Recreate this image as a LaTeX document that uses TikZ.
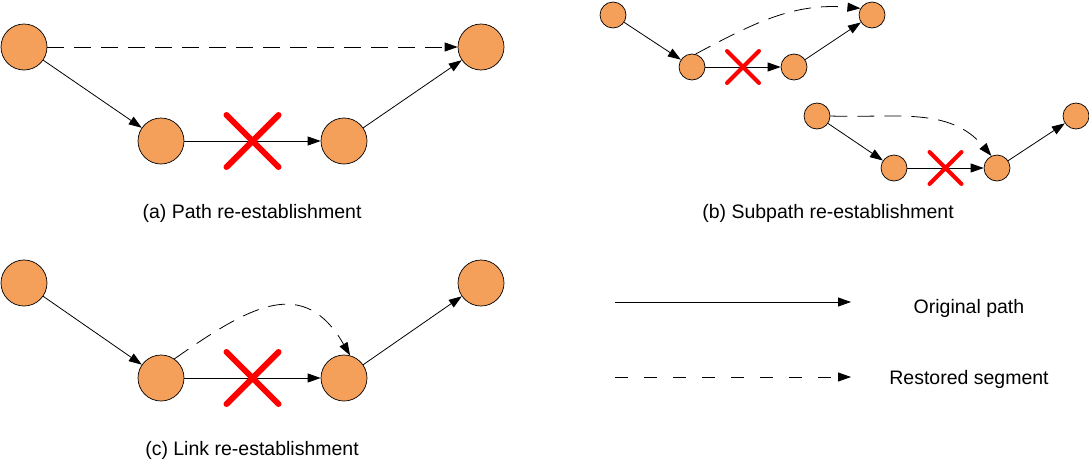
\documentclass[tikz,border=0pt]{standalone}
\usepackage{fontspec}
\setmainfont{Liberation Sans}
\usetikzlibrary{arrows.meta,shapes.misc}
\definecolor{nodeorange}{RGB}{245,160,90}
\begin{document}
\begin{tikzpicture}[x=1pt,y=1pt,
    vertex/.style={circle,draw=black,line width=0.7pt,fill=nodeorange,inner sep=0pt},
    bignode/.style={vertex,minimum size=46pt},
    smallnode/.style={vertex,minimum size=26pt},
    link/.style={line width=0.8pt,-{Triangle[length=13pt,width=9pt]}},
    restored/.style={link,dash pattern=on 17pt off 10pt},
    cut/.style={cross out,draw=red,line width=6pt,line cap=round,minimum size=46pt,inner sep=0pt},
    cutsmall/.style={cut,line width=4pt,minimum size=28pt},
    caption/.style={anchor=base,font=\fontsize{19.5}{23}\selectfont}]
  \useasboundingbox (0,0) rectangle (1089,-461);
  \draw
    (24,-47) node[bignode] (a1) {}
    (481,-47) node[bignode] (a2) {}
    (161,-141) node[bignode] (a3) {}
    (344,-141) node[bignode] (a4) {}
    (613,-15) node[smallnode] (b1) {}
    (692,-67) node[smallnode] (b2) {}
    (794,-67) node[smallnode] (b3) {}
    (872,-15) node[smallnode] (b4) {}
    (817,-116) node[smallnode] (b5) {}
    (894,-168) node[smallnode] (b6) {}
    (997,-168) node[smallnode] (b7) {}
    (1076,-116) node[smallnode] (b8) {}
    (24,-283) node[bignode] (c1) {}
    (161,-378) node[bignode] (c2) {}
    (344,-378) node[bignode] (c3) {}
    (481,-283) node[bignode] (c4) {};
  \begin{scope}[link]
    \draw (a1) to (a3);
    \draw (a3) to node[cut] (xa) {} (a4);
    \draw (a4) to (a2);
    \draw (b1) to (b2);
    \draw (b2) to node[cutsmall] (xb1) {} (b3);
    \draw (b3) to (b4);
    \draw (b5) to (b6);
    \draw (b6) to node[cutsmall] (xb2) {} (b7);
    \draw (b7) to (b8);
    \draw (c1) to (c2);
    \draw (c2) to node[cut] (xc) {} (c3);
    \draw (c3) to (c4);
  \end{scope}
  \begin{scope}[restored]
    \draw (a1) to (a2);
    \draw (b2.75) to[out=28,in=175] (b4.150);
    \draw (b5.east) to[out=-2,in=130] (b7.115);
    \draw (c2.55) to[out=35,in=120,looseness=1.35] (c3.75);
  \end{scope}
  \coordinate (orgfrom) at (615,-302);
  \coordinate (orgto) at (851,-302);
  \coordinate (resfrom) at (615,-377);
  \coordinate (resto) at (851,-377);
  \draw[link] (orgfrom) to (orgto);
  \draw[restored,dash pattern=on 13pt off 16pt] (resfrom) to (resto);
  \node[caption] (orglabel) at (969,-313) {Original path};
  \node[caption] (reslabel) at (969,-384) {Restored segment};
  \node[caption] (capa) at (252,-218) {(a) Path re-establishment};
  \node[caption] (capb) at (828,-218) {(b) Subpath re-establishment};
  \node[caption] (capc) at (252,-455) {(c) Link re-establishment};
\end{tikzpicture}
\end{document}
